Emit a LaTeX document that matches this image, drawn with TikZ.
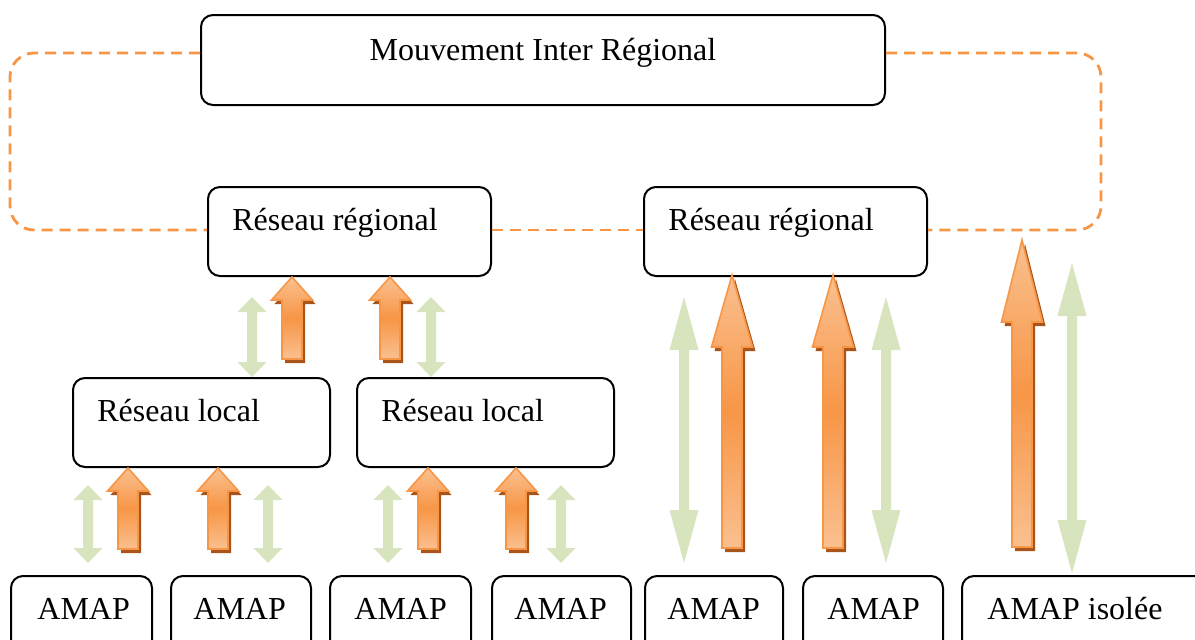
\documentclass[tikz,border=0pt]{standalone}
\usepackage{fontspec}
\setmainfont{Liberation Serif}
\usetikzlibrary{calc}

\definecolor{orfonce}{HTML}{F79646}
\definecolor{orclair}{HTML}{FAC090}
\definecolor{orombre}{HTML}{A8541A}
\definecolor{vertpale}{HTML}{D7E4BD}

\tikzset{
  boite/.style={draw, line width=1pt, rounded corners=6pt, fill=white, inner sep=0pt, anchor=north west, minimum height=45pt},
  texte/.style={anchor=base west, inner sep=0pt, font=\fontsize{16}{19}\selectfont},
  tirets/.style={orfonce, line width=1.4pt, dash pattern=on 5.5pt off 3.5pt, rounded corners=12pt},
}

% fleche orange : pointe, base, longueur de tete
\newcommand{\flecheor}[3]{%
  \coordinate (p) at (#1);
  \coordinate (q) at (#2);
  \fill[orombre, transform canvas={shift={(1.5pt,-2pt)}}] (p) -- ($(p)+(20.5,#3)$) -- ($(p)+(10,#3)$) -- ($(q)+(10,0)$) -- ($(q)+(-10,0)$) -- ($(p)+(-10,#3)$) -- ($(p)+(-20.5,#3)$) -- cycle;
  \path[draw=orfonce, line width=0.8pt, top color=orclair, bottom color=orclair, middle color=orfonce] (p) -- ($(p)+(20.5,#3)$) -- ($(p)+(10,#3)$) -- ($(q)+(10,0)$) -- ($(q)+(-10,0)$) -- ($(p)+(-10,#3)$) -- ($(p)+(-20.5,#3)$) -- cycle;
}
% fleche verte double : haut, bas, longueur de tete
\newcommand{\flechevert}[3]{%
  \coordinate (p) at (#1);
  \coordinate (q) at (#2);
  \fill[vertpale] (p) -- ($(p)+(14.5,#3)$) -- ($(p)+(5,#3)$) -- ($(q)+(5,-#3)$) -- ($(q)+(14.5,-#3)$) -- (q) -- ($(q)+(-14.5,-#3)$) -- ($(q)+(-5,-#3)$) -- ($(p)+(-5,#3)$) -- ($(p)+(-14.5,#3)$) -- cycle;
}

\begin{document}
\begin{tikzpicture}[x=0.5pt, y=-0.5pt]
    \useasboundingbox (0,0) rectangle (1195,639);
    \clip (0,0) rectangle (1195,639);

    % Boites
    \node[boite, minimum width=342pt] (mir) at (200,14) {};
    \node[boite, minimum width=141.5pt, minimum height=44.5pt] (rr1) at (207,186) {};
    \node[boite, minimum width=141.5pt, minimum height=44.5pt] (rr2) at (643,186) {};
    \node[boite, minimum width=128.5pt, minimum height=44.5pt] (rl1) at (72,377) {};
    \node[boite, minimum width=128.5pt, minimum height=44.5pt] (rl2) at (356,377) {};
    \node[boite, minimum width=70.5pt] (a1) at (10,575) {};
    \node[boite, minimum width=70pt] (a2) at (170,575) {};
    \node[boite, minimum width=70.5pt] (a3) at (329,575) {};
    \node[boite, minimum width=69.5pt] (a4) at (491,575) {};
    \node[boite, minimum width=69pt] (a5) at (644,575) {};
    \node[boite, minimum width=70pt] (a6) at (802,575) {};
    \node[boite, minimum width=150pt] (a7) at (961,575) {};

    % Textes
    \node[texte, anchor=base] (mirt) at ([shift={(0,46)}]mir.north) {Mouvement Inter Régional};
    \node[texte] (rr1t) at ([shift={(25,44)}]rr1.north west) {Réseau régional};
    \node[texte] (rr2t) at ([shift={(25,44)}]rr2.north west) {Réseau régional};
    \node[texte] (rl1t) at ([shift={(25,44)}]rl1.north west) {Réseau local};
    \node[texte] (rl2t) at ([shift={(25,44)}]rl2.north west) {Réseau local};
    \node[texte] (a1t) at ([shift={(27,44)}]a1.north west) {AMAP};
    \node[texte] (a2t) at ([shift={(23,44)}]a2.north west) {AMAP};
    \node[texte] (a3t) at ([shift={(25,44)}]a3.north west) {AMAP};
    \node[texte] (a4t) at ([shift={(23,44)}]a4.north west) {AMAP};
    \node[texte] (a5t) at ([shift={(23,44)}]a5.north west) {AMAP};
    \node[texte] (a6t) at ([shift={(25,44)}]a6.north west) {AMAP};
    \node[texte] (a7t) at ([shift={(26,44)}]a7.north west) {AMAP isolée};

    % Lien en tirets
    \coordinate (cg) at (10,0);
    \coordinate (cd) at (1101,0);
    \draw[tirets] ([yshift=3.5pt]mir.west) -| ([yshift=0.75pt]cg |- rr1.west) -- ([yshift=0.75pt]rr1.west);
    \draw[tirets] ([yshift=3.5pt]mir.east) -| ([yshift=0.75pt]cd |- rr2.east) -- ([yshift=0.75pt]rr2.east);
    \draw[tirets] ([yshift=0.75pt]rr1.east) -- ([yshift=0.75pt]rr2.west);

    % Fleches vers le reseau regional
    \flechevert{$(rr1.south -| 252,0)+(0,20)$}{rl1.north -| 252,0}{15}
    \flecheor{rr1.south -| 292,0}{$(rl1.north -| 292,0)+(0,-18)$}{23}
    \flecheor{rr1.south -| 390,0}{$(rl2.north -| 390,0)+(0,-18)$}{23}
    \flechevert{$(rr1.south -| 431,0)+(0,20)$}{rl2.north -| 431,0}{15}

    % Fleches vers les reseaux locaux
    \flechevert{$(rl1.south -| 88,0)+(0,17)$}{$(a1.north -| 88,0)+(0,-12)$}{15}
    \flecheor{rl1.south -| 128,0}{$(a1.north -| 128,0)+(0,-26)$}{23}
    \flecheor{rl1.south -| 218,0}{$(a2.north -| 218,0)+(0,-26)$}{23}
    \flechevert{$(rl1.south -| 268,0)+(0,17)$}{$(a2.north -| 268,0)+(0,-12)$}{15}
    \flechevert{$(rl2.south -| 388,0)+(0,17)$}{$(a3.north -| 388,0)+(0,-12)$}{15}
    \flecheor{rl2.south -| 428,0}{$(a3.north -| 428,0)+(0,-26)$}{23}
    \flecheor{rl2.south -| 516,0}{$(a4.north -| 516,0)+(0,-26)$}{23}
    \flechevert{$(rl2.south -| 561,0)+(0,17)$}{$(a4.north -| 561,0)+(0,-12)$}{15}

    % Fleches directes
    \flechevert{$(rr2.south -| 684,0)+(0,20)$}{$(a5.north -| 684,0)+(0,-12)$}{53}
    \flecheor{$(rr2.south -| 732,0)+(0,-2)$}{$(a5.north -| 732,0)+(0,-27)$}{72}
    \flecheor{$(rr2.south -| 833,0)+(0,-2)$}{$(a6.north -| 833,0)+(0,-27)$}{72}
    \flechevert{$(rr2.south -| 886,0)+(0,20)$}{$(a6.north -| 886,0)+(0,-12)$}{53}

    % AMAP isolee
    \coordinate (iso1) at (1022,240);
    \coordinate (iso2) at (1072,263);
    \flecheor{iso1}{$(a7.north -| 1022,0)+(0,-28)$}{82}
    \flechevert{iso2}{$(a7.north -| 1072,0)+(0,-2)$}{53}
\end{tikzpicture}
\end{document}
